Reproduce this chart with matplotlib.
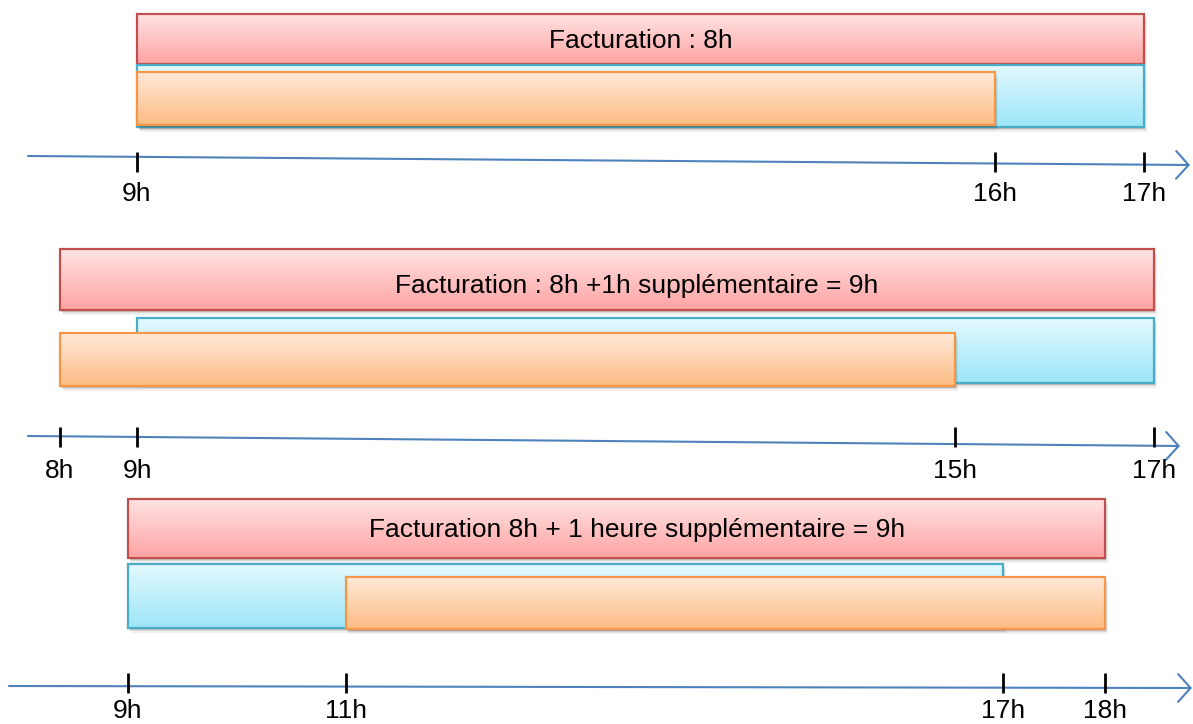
import numpy as np
import matplotlib
matplotlib.use("Agg")
import matplotlib.pyplot as plt
from matplotlib.patches import Rectangle
from matplotlib.transforms import ScaledTranslation
from matplotlib.colors import to_rgb

# ---------------- data ----------------
titles = ["Facturation : 8h",
          "Facturation : 8h +1h supplémentaire = 9h",
          "Facturation 8h + 1 heure supplémentaire = 9h"]
facturation_start = [9, 8, 9]
facturation_end = [17, 17, 18]
presence_start = [9, 9, 9]
presence_end = [17, 17, 17]
travail_start = [9, 8, 11]
travail_end = [16, 15, 18]
tick_hours = [[9, 16, 17], [8, 9, 15, 17], [9, 11, 17, 18]]
tick_labels = [["9h", "16h", "17h"], ["8h", "9h", "15h", "17h"],
               ["9h", "11h", "17h", "18h"]]

# ---------------- layout ----------------
W, H = 1193, 724
# pixel position of each tick hour on its (hand-drawn) time line
knot_px = [[137, 995, 1144], [60, 137, 955, 1154], [128, 346, 1003, 1105]]
# vertical layout of each panel (pixels from top)
red_y = [(14, 64), (249, 310), (499, 558)]
blue_y = [(65, 127), (318, 383), (564, 628)]
orange_y = [(72, 125), (333, 386), (577, 629)]
title_y = [41, 286, 530]
title_xfrac = [0.537, 0.534, 0.534]
axis_line = [((28, 156), (1190, 165)), ((28, 436), (1180, 446)), ((9, 686), (1192, 688))]
tick_y = [(152, 172), (427, 447), (673, 693)]
label_y = [194, 471, 711]

RED = ("#FFE2E2", "#FFA3A3", "#C0504D")
BLUE = ("#E1F8FD", "#9DE6F8", "#4BACC6")
ORANGE = ("#FEE8D8", "#FDBC84", "#F79646")
AXIS_COL = "#4F81BD"
FONT = "Liberation Sans"

fig = plt.figure(figsize=(W / 100, H / 100), dpi=100)
fig.patch.set_facecolor("white")

deco = fig.add_axes([0, 0, 1, 1])
deco.set_xlim(0, W)
deco.set_ylim(H, 0)
deco.axis("off")


def make_scale(hours, px):
    h = np.asarray(hours, float)
    p = np.asarray(px, float)
    s0 = (p[1] - p[0]) / (h[1] - h[0])
    s1 = (p[-1] - p[-2]) / (h[-1] - h[-2])
    hh = np.concatenate([[h[0] - 30], h, [h[-1] + 30]])
    pp = np.concatenate([[p[0] - 30 * s0], p, [p[-1] + 30 * s1]])

    def fwd(x):
        return np.interp(x, hh, pp)

    def inv(x):
        return np.interp(x, pp, hh)
    return fwd, inv


def shadow_offsets(ax):
    trs = []
    for dx, dy, a in [(1, 2, 0.12), (2, 3, 0.09), (3, 5, 0.06)]:
        trs.append((ax.transData + ScaledTranslation(dx / 100, -dy / 100, fig.dpi_scale_trans), a))
    return trs


def gradient_bar(ax, start, end, ytop, ybot, cols, z):
    # shadow
    for tr, a in shadow_offsets(ax):
        ax.add_patch(Rectangle((start, ytop), end - start, ybot - ytop, transform=tr,
                               facecolor="black", edgecolor="none", alpha=a, zorder=z))
    n = 40
    ys = np.linspace(ytop, ybot, n + 1)
    c0 = np.array(to_rgb(cols[0]))
    c1 = np.array(to_rgb(cols[1]))
    colors = [tuple(c0 + (c1 - c0) * t) for t in np.linspace(0, 1, n)]
    ax.barh(ys[:-1], [end - start] * n, left=start, height=(ybot - ytop) / n,
            align="edge", color=colors, linewidth=0, zorder=z + 0.1)
    ax.add_patch(Rectangle((start, ytop), end - start, ybot - ytop, fill=False,
                           edgecolor=cols[2], linewidth=1.6, zorder=z + 0.2))


for i in range(3):
    fwd, inv = make_scale(tick_hours[i], knot_px[i])
    ax = fig.add_axes([0, 0, 1, 1])
    ax.set_xscale("function", functions=(fwd, inv))
    ax.set_xlim(inv(0.0), inv(float(W)))
    ax.set_ylim(H, 0)
    ax.axis("off")
    ax.patch.set_alpha(0)

    # axis line with open arrow head
    (x0, y0), (x1, y1) = axis_line[i]
    deco.annotate("", xy=(x1, y1), xytext=(x0, y0),
                  arrowprops=dict(arrowstyle="->,head_length=0.9,head_width=1.0",
                                  color=AXIS_COL, lw=1.5, shrinkA=0, shrinkB=0,
                                  mutation_scale=10))

    gradient_bar(ax, facturation_start[i], facturation_end[i], *red_y[i], RED, 2)
    gradient_bar(ax, presence_start[i], presence_end[i], *blue_y[i], BLUE, 3)
    gradient_bar(ax, travail_start[i], travail_end[i], *orange_y[i], ORANGE, 4)

    ax.text(title_xfrac[i], title_y[i], titles[i], transform=ax.get_yaxis_transform(),
            ha="center", va="center", fontsize=19, family=FONT, color="black", zorder=10)

    ax.vlines(tick_hours[i], tick_y[i][0], tick_y[i][1], colors="black", linewidth=2, zorder=6)
    for h, lab in zip(tick_hours[i], tick_labels[i]):
        ax.text(h, label_y[i], lab, ha="center", va="center", fontsize=19,
                family=FONT, color="black", zorder=10)

fig.savefig("out.png", dpi=100)
